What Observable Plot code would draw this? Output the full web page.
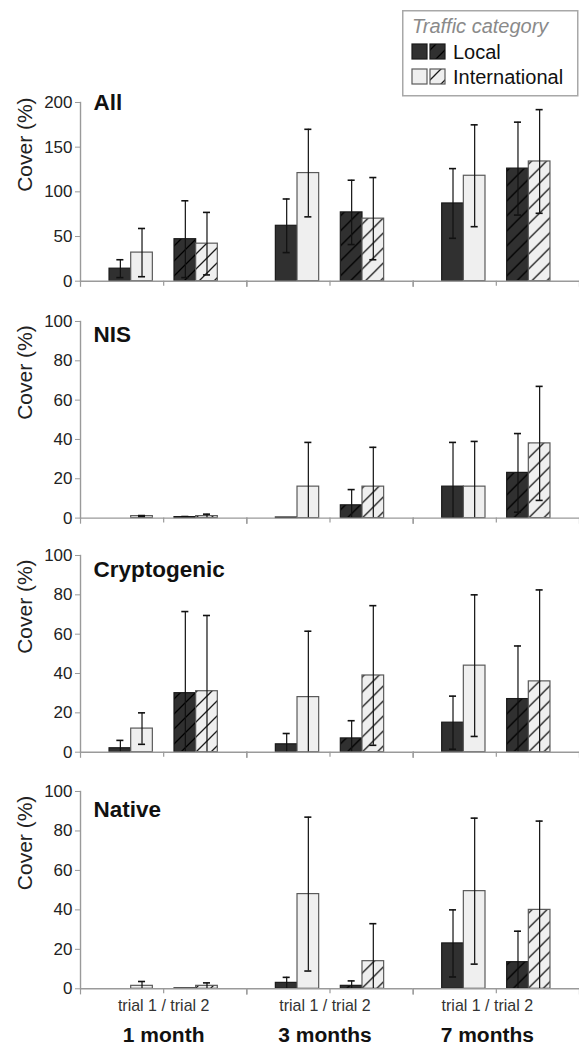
<!DOCTYPE html>
<html>
<head>
<meta charset="utf-8">
<script src="https://cdn.jsdelivr.net/npm/d3@7"></script>
<script src="https://cdn.jsdelivr.net/npm/@observablehq/plot@0.6"></script>
<style>
  html, body { margin: 0; padding: 0; background: #fff; }
  #chart { position: relative; width: 579px; height: 1046px; overflow: hidden; font-family: "Liberation Sans", Arial, sans-serif; }
  .panel { position: absolute; left: 0; }
  #legend { position: absolute; left: 0; top: 0; }
</style>
</head>
<body>
<svg width="0" height="0" style="position:absolute">
  <defs>
    <pattern id="hatchDark" patternUnits="userSpaceOnUse" width="15" height="15">
      <rect width="15" height="15" fill="#303030"></rect>
      <path d="M-3.75,3.75 L3.75,-3.75 M0,15 L15,0 M11.25,18.75 L18.75,11.25" stroke="#000" stroke-width="1.3"></path>
    </pattern>
    <pattern id="hatchLight" patternUnits="userSpaceOnUse" width="15" height="15">
      <rect width="15" height="15" fill="#efefef"></rect>
      <path d="M-3.75,3.75 L3.75,-3.75 M0,15 L15,0 M11.25,18.75 L18.75,11.25" stroke="#1a1a1a" stroke-width="1.3"></path>
    </pattern>
  </defs>
</svg>
<div id="chart"></div>
<script>
// ---------- data ----------
const months = ["1 month", "3 months", "7 months"];
const trials = ["trial 1", "trial 2"];
const traffic = ["Local", "International"];
const panelNames = ["All", "NIS", "Cryptogenic", "Native"];
const xLabel = "trial 1 / trial 2";
const yLabel = "Cover (%)";
const legendTitle = "Traffic category";

// order per month: trial 1 Local, trial 1 International, trial 2 Local, trial 2 International
const allMean = [14, 32, 47, 42, 62, 121, 77, 70, 87, 118, 126, 134];
const allErr  = [10, 27, 43, 35, 30, 49, 36, 46, 39, 57, 52, 58];
const nisMean = [0, 1, 0.5, 1, 0.3, 16, 6.5, 16, 16, 16, 23, 38];
const nisErr  = [0, 0.3, 0.3, 1, 0, 22.5, 8, 20, 22.5, 23, 20, 29];
const cryMean = [2, 12, 30, 31, 4, 28, 7, 39, 15, 44, 27, 36];
const cryErr  = [4, 8, 41.5, 38.5, 5.5, 33.5, 9, 35.5, 13.5, 36, 27, 46.5];
const natMean = [0, 1.5, 0.2, 1.5, 3, 48, 1.5, 14, 23, 49.5, 13.5, 40];
const natErr  = [0, 2.2, 0, 1.5, 2.8, 39, 2.5, 19, 17, 37, 15.7, 45];

const yTicksAll = [0, 50, 100, 150, 200];
const yTicksPct = [0, 20, 40, 60, 80, 100];

// ---------- helpers ----------
function rows(means, errs) {
  const out = [];
  let i = 0;
  for (const m of months) for (const t of trials) for (const c of traffic) {
    out.push({month: m, trial: t, traffic: c, key: t + "|" + c, value: means[i], err: errs[i]});
    i++;
  }
  return out;
}
const spacer = "gap";
const xDomain = [
  trials[0] + "|" + traffic[0], trials[0] + "|" + traffic[1],
  spacer,
  trials[1] + "|" + traffic[0], trials[1] + "|" + traffic[1]
];

const axisGray = "#9a9a9a";
const styles = {
  "trial 1|Local": {fill: "#303030", stroke: "#1a1a1a"},
  "trial 1|International": {fill: "#efefef", stroke: "#5a5a5a"},
  "trial 2|Local": {fill: "url(#hatchDark)", stroke: "#1a1a1a"},
  "trial 2|International": {fill: "url(#hatchLight)", stroke: "#5a5a5a"}
};
// small horizontal nudges of the bottom labels, as in the original figure
const labelShift = [0, -5, -9];

const layout = [
  {name: panelNames[0], mean: allMean, err: allErr, yMax: 200, ticks: yTicksAll, top: 90.3, plotH: 178.7, mt: 12, mb: 12, titleDy: 8},
  {name: panelNames[1], mean: nisMean, err: nisErr, yMax: 100, ticks: yTicksPct, top: 308.7, plotH: 196.6, mt: 12, mb: 12, titleDy: 21},
  {name: panelNames[2], mean: cryMean, err: cryErr, yMax: 100, ticks: yTicksPct, top: 543, plotH: 196.7, mt: 12, mb: 12, titleDy: 22},
  {name: panelNames[3], mean: natMean, err: natErr, yMax: 100, ticks: yTicksPct, top: 778.7, plotH: 197.3, mt: 12, mb: 55.3, titleDy: 26, labels: true}
];

const chart = document.getElementById("chart");

for (const p of layout) {
  const data = rows(p.mean, p.err);
  const errData = data.filter(d => d.err > 0);
  const H = p.mt + p.plotH + p.mb;
  const marks = [
    Plot.frame({anchor: "left", facet: "super", stroke: axisGray, strokeWidth: 1.4}),
    Plot.axisY({ticks: p.ticks, tickSize: 5, tickPadding: 3, fontSize: 17, stroke: axisGray, fill: "#222", label: null}),
    Plot.text([yLabel], {facet: "super", frameAnchor: "left", rotate: -90, dx: -55, fontSize: 21, fill: "#222"}),
    Plot.text([p.name], {facet: "super", frameAnchor: "top-left", textAnchor: "start", lineAnchor: "bottom", dx: 13, dy: p.titleDy, fontSize: 22.5, fontWeight: "bold", fill: "#111"}),
  ];
  for (const key of xDomain) {
    if (key === spacer) continue;
    const s = styles[key];
    marks.push(Plot.barY(data.filter(d => d.key === key && d.value > 0), {
      fx: "month", x: "key", y: "value", fill: s.fill, stroke: s.stroke, strokeWidth: 1.2
    }));
  }
  marks.push(
    Plot.ruleX(errData, {fx: "month", x: "key", y1: d => Math.max(0, d.value - d.err), y2: d => d.value + d.err, stroke: "#111", strokeWidth: 1.2}),
    Plot.tickY(errData, {fx: "month", x: "key", y: d => d.value + d.err, inset: 7.3, stroke: "#111", strokeWidth: 1.6}),
    Plot.tickY(errData.filter(d => d.value - d.err > 0.5), {fx: "month", x: "key", y: d => d.value - d.err, inset: 7.3, stroke: "#111", strokeWidth: 1.6}),
    Plot.ruleY([0], {stroke: axisGray, strokeWidth: 1.4}),
    Plot.frame({anchor: "left", insetTop: p.plotH, insetBottom: -5, stroke: axisGray, strokeWidth: 1.2}),
    Plot.frame({anchor: "right", insetTop: p.plotH, insetBottom: -5, stroke: axisGray, strokeWidth: 1.2}),
    Plot.ruleX([spacer], {x: d => d, y1: 0, y2: 0, insetBottom: -5, stroke: axisGray, strokeWidth: 1.2})
  );
  if (p.labels) {
    months.forEach((m, i) => {
      marks.push(
        Plot.text([xLabel], {fx: () => m, frameAnchor: "bottom", lineAnchor: "bottom", dx: labelShift[i], dy: 22, fontSize: 16, fill: "#333"}),
        Plot.text([m], {fx: d => d, frameAnchor: "bottom", lineAnchor: "bottom", dx: labelShift[i], dy: 53.5, fontSize: 21, fontWeight: "bold", fill: "#111"})
      );
    });
  }
  const svg = Plot.plot({
    width: 579, height: H,
    marginLeft: 80, marginRight: 0, marginTop: p.mt, marginBottom: p.mb,
    fx: {domain: months, padding: 0, axis: null, round: false},
    x: {domain: xDomain, paddingInner: 0, paddingOuter: 1.34, axis: null, round: false},
    y: {domain: [0, p.yMax]},
    style: {fontFamily: "'Liberation Sans', Arial, sans-serif", background: "transparent", overflow: "visible"},
    marks
  });
  const div = document.createElement("div");
  div.className = "panel";
  div.style.top = p.top + "px";
  div.appendChild(svg);
  chart.appendChild(div);
}

// ---------- legend ----------
const legendFills = {
  "Local": ["#303030", "url(#hatchDark)", "#1a1a1a"],
  "International": ["#efefef", "url(#hatchLight)", "#5a5a5a"]
};
const lg = d3.select(chart).append("svg")
  .attr("id", "legend").attr("width", 579).attr("height", 100)
  .style("font-family", "'Liberation Sans', Arial, sans-serif");
lg.append("rect").attr("x", 402.75).attr("y", 10.75).attr("width", 175).attr("height", 85)
  .attr("fill", "#fff").attr("stroke", "#a8a8a8").attr("stroke-width", 1.5);
lg.append("text").attr("x", 412).attr("y", 33).attr("font-size", 20).attr("font-style", "italic")
  .attr("fill", "#8a8a8a").text(legendTitle);
traffic.forEach((t, i) => {
  const [solid, hatch, stroke] = legendFills[t];
  const y = 44 + 25 * i;
  lg.append("rect").attr("x", 412).attr("y", y).attr("width", 15).attr("height", 15)
    .attr("fill", solid).attr("stroke", stroke).attr("stroke-width", 1.2);
  lg.append("rect").attr("x", 430).attr("y", y).attr("width", 15).attr("height", 15)
    .attr("fill", hatch).attr("stroke", stroke).attr("stroke-width", 1.2);
  lg.append("text").attr("x", 453).attr("y", y + 15).attr("font-size", 20).attr("fill", "#111").text(t);
});
</script>
</body>
</html>
